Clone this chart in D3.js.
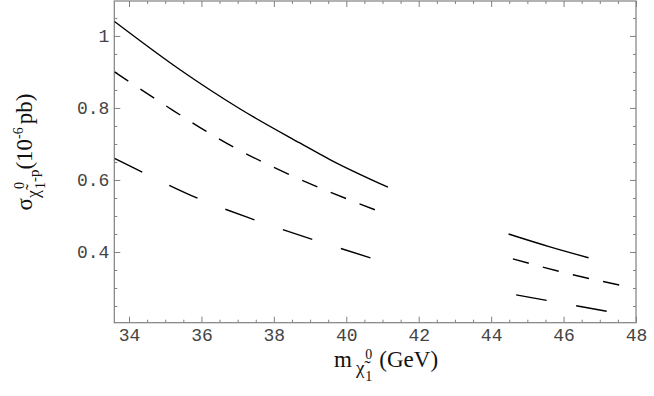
<!DOCTYPE html>
<html lang="en">
<head>
<meta charset="UTF-8">
<title>Neutralino-proton cross section</title>
<script src="https://d3js.org/d3.v7.min.js"></script>
<style>
  body { margin: 0; background: #fff; }
  svg { display: block; }
  .tick text { font-family: "Liberation Mono", monospace; font-size: 18px; fill: #444; }
  .tick line { stroke: #808080; }
  .title { font-family: "Liberation Serif", "Times New Roman", serif; fill: #111; }
</style>
</head>
<body>
<svg id="chart" width="654" height="396"></svg>
<script>
// neutralino mass (GeV) and cross section (10^-6 pb)
const mSolidA = [33.6, 35.41, 37.07, 38.73, 39.56, 41.15];
const sSolidA = [1.04, 0.906, 0.797, 0.702, 0.656, 0.58];
const mSolidB = [44.48, 45.6, 46.69];
const sSolidB = [0.45, 0.415, 0.384];

const mDashA = [33.6, 35.05, 36.15, 36.89, 38.45, 40.85];
const sDashA = [0.90, 0.804, 0.734, 0.691, 0.614, 0.515];
const mDashB = [44.6, 46.0, 47.55];
const sDashB = [0.381, 0.343, 0.308];

const mLongA = [33.6, 34.38, 35.95, 37.39, 39.19, 40.85];
const sLongA = [0.66, 0.621, 0.547, 0.492, 0.431, 0.378];
const mLongB = [44.69, 47.27];
const sLongB = [0.281, 0.234];

const xTicks = [34, 36, 38, 40, 42, 44, 46, 48];
const yTicks = [0.4, 0.6, 0.8, 1];

const svg = d3.select('#chart');
const plotL = 114.3, plotR = 636, plotT = 1, plotB = 322.7;

const x = d3.scaleLinear().domain([33.594, 48]).range([plotL, plotR]);
const y = d3.scaleLinear().domain([0.2036, 1.097]).range([plotB, plotT]);

const xMinor = d3.range(34.5, 48, 0.5).filter(v => v % 2 !== 0);
const yMinor = d3.range(5, 22).map(k => k * 0.05).filter(v => Math.round(v * 20) % 4 !== 0);

function addAxis(axis, tr) {
  const g = svg.append('g').attr('transform', tr).call(axis);
  g.select('.domain').remove();
  return g;
}

// major and minor ticks on all four sides, pointing inward
addAxis(d3.axisBottom(x).tickValues(xTicks).tickSize(-6).tickPadding(6).tickFormat(d3.format('~g')), `translate(0,${plotB})`);
addAxis(d3.axisBottom(x).tickValues(xMinor).tickSize(-3).tickFormat(''), `translate(0,${plotB})`);
addAxis(d3.axisTop(x).tickValues(xTicks).tickSize(-6).tickFormat(''), `translate(0,${plotT})`);
addAxis(d3.axisTop(x).tickValues(xMinor).tickSize(-3).tickFormat(''), `translate(0,${plotT})`);
addAxis(d3.axisLeft(y).tickValues(yTicks).tickSize(-6).tickPadding(5).tickFormat(d3.format('~g')), `translate(${plotL},0)`);
addAxis(d3.axisLeft(y).tickValues(yMinor).tickSize(-3).tickFormat(''), `translate(${plotL},0)`);
addAxis(d3.axisRight(y).tickValues(yTicks).tickSize(-6).tickFormat(''), `translate(${plotR},0)`);
addAxis(d3.axisRight(y).tickValues(yMinor).tickSize(-3).tickFormat(''), `translate(${plotR},0)`);

svg.append('rect')
  .attr('x', plotL).attr('y', plotT)
  .attr('width', plotR - plotL).attr('height', plotB - plotT)
  .attr('fill', 'none').attr('stroke', '#808080').attr('stroke-width', 1.2);

svg.append('clipPath').attr('id', 'plot')
  .append('rect').attr('x', plotL).attr('y', plotT).attr('width', plotR - plotL).attr('height', plotB - plotT);

const line = d3.line().x(d => x(d[0])).y(d => y(d[1])).curve(d3.curveMonotoneX);

const curves = [
  [mSolidA, sSolidA, null],
  [mSolidB, sSolidB, null],
  [mDashA, sDashA, '16.5,14.5'],
  [mDashB, sDashB, '16.5,14.5'],
  [mLongA, sLongA, '31,30'],
  [mLongB, sLongB, '31,30']
];

const plot = svg.append('g').attr('clip-path', 'url(#plot)');
curves.forEach(([ms, ss, dash]) => {
  plot.append('path')
    .datum(ms.map((m, i) => [m, ss[i]]))
    .attr('d', line)
    .attr('fill', 'none')
    .attr('stroke', '#000')
    .attr('stroke-width', 1.4)
    .attr('stroke-dasharray', dash);
});

// x title: m with neutralino subscript
const xt = svg.append('text').attr('class', 'title').attr('x', 334).attr('y', 367).attr('font-size', 23);
xt.append('tspan').text('m');
xt.append('tspan').attr('font-size', 19).attr('dx', 4).attr('dy', 7).text('χ̃');
xt.append('tspan').attr('font-size', 14).attr('dx', 1).attr('dy', -15).text('0');
xt.append('tspan').attr('font-size', 14).attr('dx', -7).attr('dy', 22).text('1');
xt.append('tspan').attr('dx', 7).attr('dy', -14).text('(GeV)');

// y title, rotated
const yt = svg.append('text').attr('class', 'title')
  .attr('transform', 'translate(32,152) rotate(-90)')
  .attr('text-anchor', 'middle').attr('font-size', 23);
yt.append('tspan').text('σ');
yt.append('tspan').attr('font-size', 18).attr('dy', 7).text('χ̃');
yt.append('tspan').attr('font-size', 14).attr('dx', 1).attr('dy', -15).text('0');
yt.append('tspan').attr('font-size', 14).attr('dx', -7).attr('dy', 21).text('1');
yt.append('tspan').attr('font-size', 15).attr('dy', -6).text('-p');
yt.append('tspan').attr('dy', -7).text('(10');
yt.append('tspan').attr('font-size', 14).attr('dy', -9).text('-6');
yt.append('tspan').attr('dx', 3).attr('dy', 9).text('pb)');
</script>
</body>
</html>
